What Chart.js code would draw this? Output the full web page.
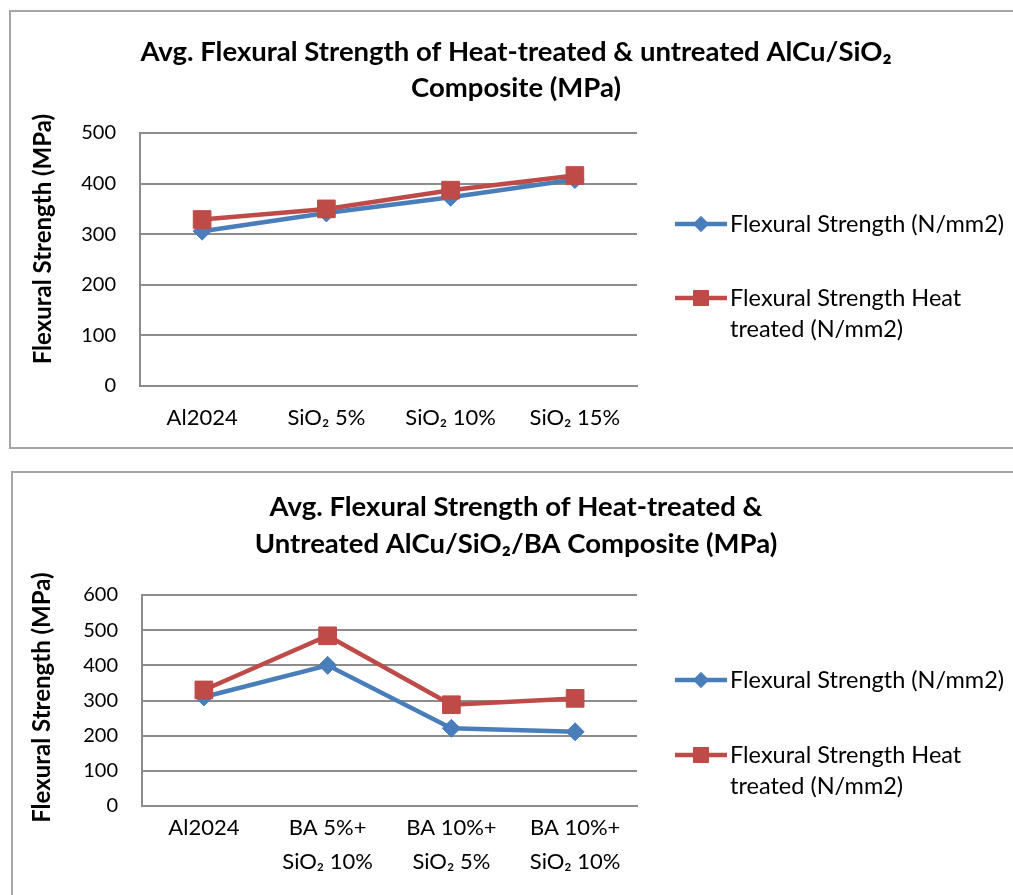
<!DOCTYPE html>
<html>
<head>
<meta charset="utf-8">
<script src="https://cdn.jsdelivr.net/npm/chart.js@4.4.1/dist/chart.umd.min.js"></script>
<style>
  body { margin: 0; background: #fff; width: 1013px; height: 895px; overflow: hidden; position: relative; }
  .frame { position: absolute; border: 2px solid #a6a6a6; box-sizing: border-box; }
  canvas { position: absolute; left: 0; }
</style>
</head>
<body>
<div class="frame" style="left:9px; top:10px; width:1020px; height:439px;"></div>
<div class="frame" style="left:11px; top:471px; width:1020px; height:440px;"></div>
<canvas id="chart-top" width="1032" height="450" style="top:0px;"></canvas>
<canvas id="chart-bottom" width="1032" height="435" style="top:460px;"></canvas>
<script>
// Data
const seriesNames = ['Flexural Strength (N/mm2)', 'Flexural Strength Heat treated (N/mm2)'];

const topCategories = ['Al2024', 'SiO₂ 5%', 'SiO₂ 10%', 'SiO₂ 15%'];
const topUntreated = [306, 342, 373, 408];
const topHeatTreated = [329, 350, 387, 416];
const topTitle = ['Avg. Flexural Strength of Heat-treated & untreated AlCu/SiO₂', 'Composite (MPa)'];
const topYMax = 500;

const bottomCategories = ['Al2024', ['BA 5%+', 'SiO₂ 10%'], ['BA 10%+', 'SiO₂ 5%'], ['BA 10%+', 'SiO₂ 10%']];
const bottomUntreated = [310, 400, 221, 211];
const bottomHeatTreated = [330, 484, 288, 306];
const bottomTitle = ['Avg. Flexural Strength of Heat-treated &', 'Untreated AlCu/SiO₂/BA Composite (MPa)'];
const bottomYMax = 600;

const yTitle = 'Flexural Strength (MPa)';

const BLUE = '#4a7ebb';
const RED = '#be4b48';
const GRID = '#8c8c8c';
const FONT = 'Lato, "Open Sans", sans-serif';

// Legend drawn on the right, with word wrap
const sideLegend = {
    id: 'sideLegend',
    afterDraw(chart, args, opts) {
        const ctx = chart.ctx;
        ctx.save();
        ctx.font = opts.fontSize + 'px ' + FONT;
        ctx.textBaseline = 'middle';
        chart.data.datasets.forEach((ds, i) => {
            const y = opts.rows[i];
            // sample line + marker
            ctx.strokeStyle = ds.borderColor;
            ctx.fillStyle = ds.backgroundColor;
            ctx.lineWidth = ds.borderWidth;
            ctx.beginPath();
            ctx.moveTo(opts.x, y);
            ctx.lineTo(opts.x + 52, y);
            ctx.stroke();
            ctx.lineWidth = 1;
            Chart.helpers.drawPoint(ctx, {
                pointStyle: ds.pointStyle,
                radius: ds.pointRadius * 0.85,
                borderWidth: 1
            }, opts.x + 26, y);
            // wrapped text
            ctx.fillStyle = '#000';
            const words = ds.label.split(' ');
            let lines = [], cur = '';
            words.forEach(w => {
                const test = cur ? cur + ' ' + w : w;
                if (ctx.measureText(test).width > opts.maxWidth && cur) { lines.push(cur); cur = w; }
                else cur = test;
            });
            lines.push(cur);
            lines.forEach((ln, k) => ctx.fillText(ln, opts.x + 55, y + k * opts.lineGap));
        });
        ctx.restore();
    }
};

function makeChart(id, cats, untreated, heat, title, yMax, geo) {
    return new Chart(document.getElementById(id), {
        type: 'line',
        data: {
            labels: cats,
            datasets: [
                {
                    label: seriesNames[0],
                    data: untreated,
                    borderColor: BLUE,
                    backgroundColor: BLUE,
                    borderWidth: 4.5,
                    pointStyle: 'rectRot',
                    pointRadius: 9,
                    pointBorderWidth: 1,
                    tension: 0,
                    order: 1
                },
                {
                    label: seriesNames[1],
                    data: heat,
                    borderColor: RED,
                    backgroundColor: RED,
                    borderWidth: 4.5,
                    pointStyle: 'rect',
                    pointRadius: 12.5,
                    pointBorderWidth: 1,
                    tension: 0,
                    order: 0
                }
            ]
        },
        options: {
            responsive: false,
            animation: false,
            events: [],
            layout: { padding: 0 },
            plugins: {
                legend: { display: false },
                tooltip: { enabled: false },
                title: {
                    display: true,
                    text: title,
                    color: '#000',
                    font: { family: FONT, size: 27.5, weight: 'bold', lineHeight: geo.titleLine / 27.5 },
                    padding: { top: geo.titleTop, bottom: geo.titleBottom }
                },
                sideLegend: geo.legend
            },
            scales: {
                x: {
                    offset: true,
                    grid: { display: false, drawTicks: false },
                    border: { display: true, color: GRID, width: 2 },
                    ticks: {
                        color: '#000',
                        padding: geo.xPad,
                        maxRotation: 0,
                        font: { family: FONT, size: 22, lineHeight: geo.xLine / 22 }
                    },
                    afterFit: s => { s.height = geo.xHeight; }
                },
                y: {
                    min: 0,
                    max: yMax,
                    ticks: {
                        stepSize: 100,
                        color: '#000',
                        padding: 24,
                        font: { family: FONT, size: 20 }
                    },
                    grid: { color: GRID, lineWidth: 2, drawTicks: false },
                    border: { display: true, color: GRID, width: 2 },
                    title: {
                        display: true,
                        text: ' '.repeat(geo.yTitleShift) + yTitle,
                        color: '#000',
                        font: { family: FONT, size: 24, weight: 'bold', lineHeight: 1.2 },
                        padding: { top: geo.yTitleTop, bottom: 0 }
                    },
                    afterFit: s => { s.width = geo.yWidth; }
                },
                // empty space on the right that holds the legend
                side: {
                    position: 'right',
                    display: true,
                    ticks: { display: false },
                    grid: { display: false, drawTicks: false },
                    border: { display: false },
                    afterFit: s => { s.width = geo.sideWidth; }
                }
            }
        },
        plugins: [sideLegend]
    });
}

makeChart('chart-top', topCategories, topUntreated, topHeatTreated, topTitle, topYMax, {
    sideWidth: 395, titleLine: 36, titleTop: 34, titleBottom: 27,
    xPad: 19, xLine: 26, xHeight: 64, yWidth: 140, yTitleTop: 29, yTitleShift: 7,
    legend: { x: 675, rows: [224, 298], lineGap: 31, fontSize: 23.5, maxWidth: 275 }
});

makeChart('chart-bottom', bottomCategories, bottomUntreated, bottomHeatTreated, bottomTitle, bottomYMax, {
    sideWidth: 395, titleLine: 37, titleTop: 29, titleBottom: 32,
    xPad: 5, xLine: 34, xHeight: 89, yWidth: 142, yTitleTop: 28, yTitleShift: 1,
    legend: { x: 675, rows: [220, 295], lineGap: 31, fontSize: 23.5, maxWidth: 275 }
});
</script>
</body>
</html>
